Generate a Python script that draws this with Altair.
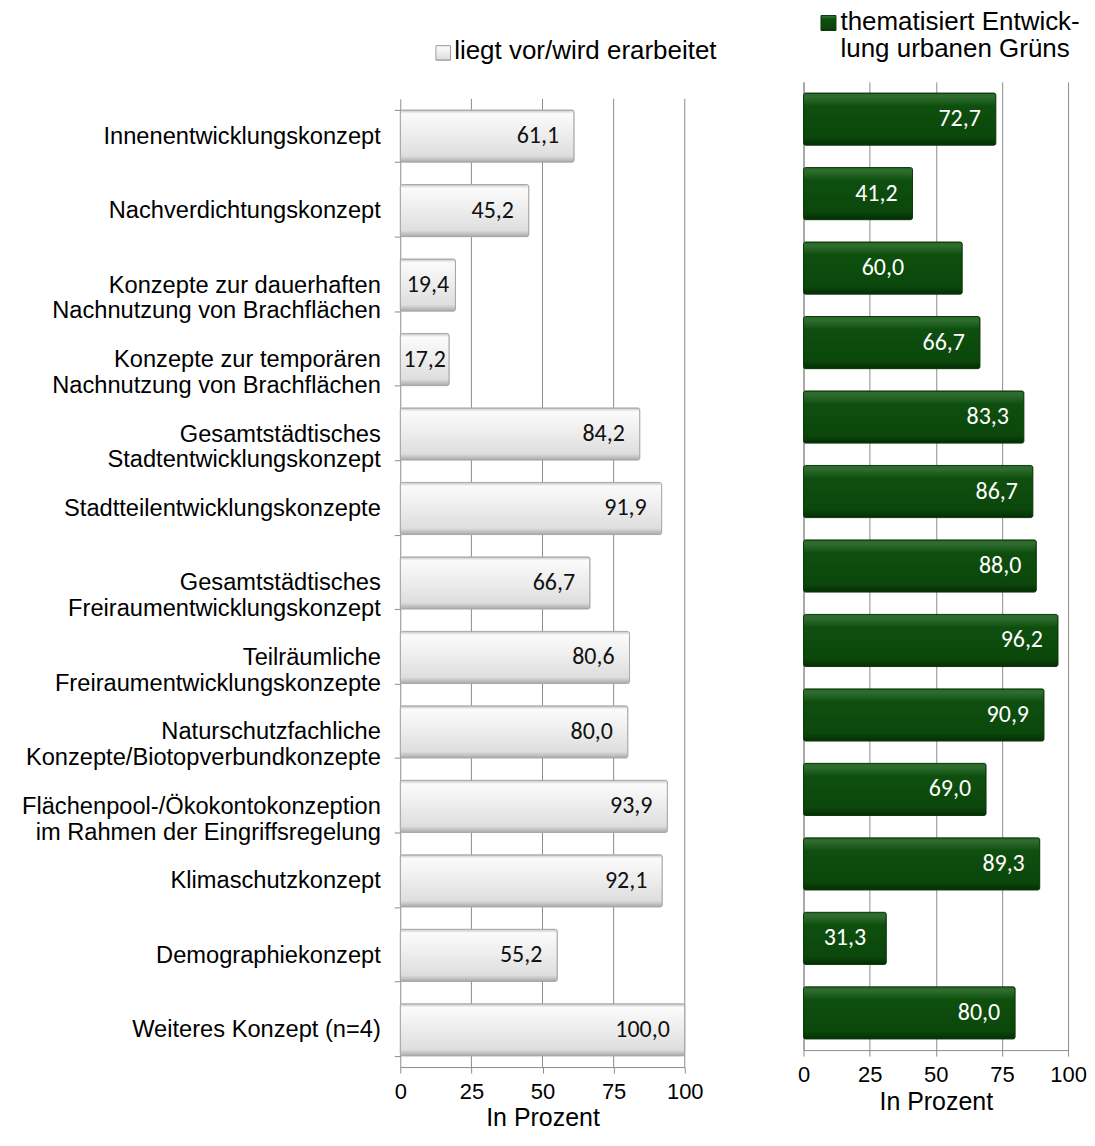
import altair as alt
import pandas as pd

# ---------------- data ----------------
categories = [
    "Innenentwicklungskonzept",
    "Nachverdichtungskonzept",
    "Konzepte zur dauerhaften|Nachnutzung von Brachflächen",
    "Konzepte zur temporären|Nachnutzung von Brachflächen",
    "Gesamtstädtisches|Stadtentwicklungskonzept",
    "Stadtteilentwicklungskonzepte",
    "Gesamtstädtisches|Freiraumentwicklungskonzept",
    "Teilräumliche|Freiraumentwicklungskonzepte",
    "Naturschutzfachliche|Konzepte/Biotopverbundkonzepte",
    "Flächenpool-/Ökokontokonzeption|im Rahmen der Eingriffsregelung",
    "Klimaschutzkonzept",
    "Demographiekonzept",
    "Weiteres Konzept (n=4)",
]
share_available = [61.1, 45.2, 19.4, 17.2, 84.2, 91.9, 66.7, 80.6, 80.0, 93.9, 92.1, 55.2, 100.0]
share_green = [72.7, 41.2, 60.0, 66.7, 83.3, 86.7, 88.0, 96.2, 90.9, 69.0, 89.3, 31.3, 80.0]

series_available = "liegt vor/wird erarbeitet"
series_green = ["thematisiert Entwick-", "lung urbanen Grüns"]

x_ticks = [0, 25, 50, 75, 100]
grid_ticks = [25, 50, 75, 100]
axis_title = "In Prozent"

# categories whose value label sits in the middle of the bar
centered_available = [categories[2], categories[3]]
centered_green = [categories[2], categories[11]]

# ---------------- style / layout ----------------
FONT = "Liberation Sans"
NUM_FONT = "Carlito, Lato"
GRID = "#8c8c8c"
PLOT_H = 970      # height of each plot area
LEFT_DROP = 17    # left plot starts lower than the right one

grey_fill = alt.Gradient(
    gradient="linear", x1=0, y1=0, x2=0, y2=1,
    stops=[
        alt.GradientStop(color="#c4c4c4", offset=0),
        alt.GradientStop(color="#fbfbfb", offset=0.07),
        alt.GradientStop(color="#eeeeee", offset=0.45),
        alt.GradientStop(color="#dedede", offset=0.88),
        alt.GradientStop(color="#a9a9a9", offset=1),
    ],
)
green_fill = alt.Gradient(
    gradient="linear", x1=0, y1=0, x2=0, y2=1,
    stops=[
        alt.GradientStop(color="#2c672c", offset=0),
        alt.GradientStop(color="#2f6d2f", offset=0.07),
        alt.GradientStop(color="#0e4f0e", offset=0.25),
        alt.GradientStop(color="#0b470b", offset=0.85),
        alt.GradientStop(color="#052d05", offset=1),
    ],
)


def make_df(values, centered):
    return pd.DataFrame({
        "cat": categories,
        "v": values,
        "centered": [c in centered for c in categories],
    })


def x_axis(grid):
    return alt.Axis(
        values=x_ticks, grid=grid, gridColor=GRID, gridWidth=1,
        tickSize=6, tickColor=GRID, domainColor=GRID,
        labelFont=FONT, labelFontSize=22, labelColor="#000", labelPadding=8,
        labelFlush=False, labelOverlap=False,
        title=axis_title, titleFont=FONT, titleFontSize=25, titleFontWeight="normal",
        titleColor="#000", titlePadding=4,
    )


def x_enc(field, axis):
    return alt.X(field, type="quantitative", title=axis_title,
                 scale=alt.Scale(domain=[0, 100], nice=False, zero=True), axis=axis)


def panel(values, centered, fill, stroke, text_color, y_axis, y_scale, height, width,
          grid_on_axis, legend_layers, extra_layers):
    df = make_df(values, centered)
    xa = x_axis(grid_on_axis)
    base = alt.Chart(df).transform_calculate(
        lbl="replace(format(datum.v, '.1f'), '.', ',')",
        mid="datum.v / 2",
    )
    y = alt.Y("cat:N", sort=categories, title=None, scale=y_scale, axis=y_axis)
    bars = base.mark_bar(fill=fill, stroke=stroke, strokeWidth=1, cornerRadius=2).encode(
        x=x_enc("v", xa), y=y,
    )
    txt_end = base.transform_filter("!datum.centered").mark_text(
        align="right", baseline="middle", dx=-15, font=NUM_FONT, fontSize=24, color=text_color
    ).encode(x=x_enc("v", xa), y=y, text="lbl:N")
    txt_mid = base.transform_filter("datum.centered").mark_text(
        align="center", baseline="middle", font=NUM_FONT, fontSize=24, color=text_color
    ).encode(x=x_enc("mid", xa), y=y, text="lbl:N")
    layers = [l(xa) for l in extra_layers] + [bars, txt_end, txt_mid] + legend_layers
    return alt.layer(*layers).properties(width=width, height=height)


# ---------------- left panel ----------------
def grid_left(xa):
    return alt.Chart(pd.DataFrame({"g": grid_ticks})).mark_rule(
        color=GRID, strokeWidth=1
    ).encode(x=x_enc("g", xa), y=alt.value(LEFT_DROP), y2=alt.value(LEFT_DROP + PLOT_H))


leg_left_df = pd.DataFrame({"s": [series_available]})
leg_left_sq = alt.Chart(leg_left_df).mark_square(
    size=215, fill=grey_fill, stroke="#a0a0a0", strokeWidth=1, opacity=1
).encode(x=alt.value(43), y=alt.value(-29))
leg_left_txt = alt.Chart(leg_left_df).mark_text(
    align="left", baseline="alphabetic", font=FONT, fontSize=26, color="#000"
).encode(x=alt.value(54), y=alt.value(-23), text="s:N")

y_axis_left = alt.Axis(
    labelExpr="split(datum.label, '|')", labelFont=FONT, labelFontSize=23.7,
    labelColor="#000", labelLineHeight=26, labelAlign="right", labelBaseline="middle",
    labelPadding=14, labelLimit=600, tickSize=6, tickColor=GRID, tickBand="extent",
    domainColor=GRID, grid=False, minExtent=390, maxExtent=390,
)
left = panel(
    share_available, centered_available, grey_fill, "#a8a8a8", "#111111",
    y_axis_left,
    alt.Scale(range=[LEFT_DROP, LEFT_DROP + PLOT_H], paddingInner=0.3, paddingOuter=0.15),
    LEFT_DROP + PLOT_H, 285, False,
    [leg_left_sq, leg_left_txt], [grid_left],
)

# ---------------- right panel ----------------
leg_right_df = pd.DataFrame({"s": ["green"]})
leg_right_sq = alt.Chart(leg_right_df).mark_square(
    size=225, fill=green_fill, stroke="#0a3a0a", strokeWidth=1, opacity=1
).encode(x=alt.value(25), y=alt.value(-59))
leg_right_txt = alt.Chart(leg_right_df).mark_text(
    align="left", baseline="alphabetic", font=FONT, fontSize=26, color="#000",
    lineHeight=27, text=series_green,
).encode(x=alt.value(37), y=alt.value(-52))

y_axis_right = alt.Axis(labels=False, ticks=False, domain=True, domainColor=GRID, grid=False)
right = panel(
    share_green, centered_green, green_fill, "#0a3a0a", "#ffffff",
    y_axis_right,
    alt.Scale(paddingInner=0.3, paddingOuter=0.15),
    PLOT_H, 265, True,
    [leg_right_sq, leg_right_txt], [],
)

chart = alt.hconcat(left, right, spacing=119, bounds="flush").properties(
    padding={"left": 3, "top": 0, "right": 0, "bottom": 0}
).configure_view(stroke=None)

chart.save("out.html", embed_options={"renderer": "svg", "actions": False})
